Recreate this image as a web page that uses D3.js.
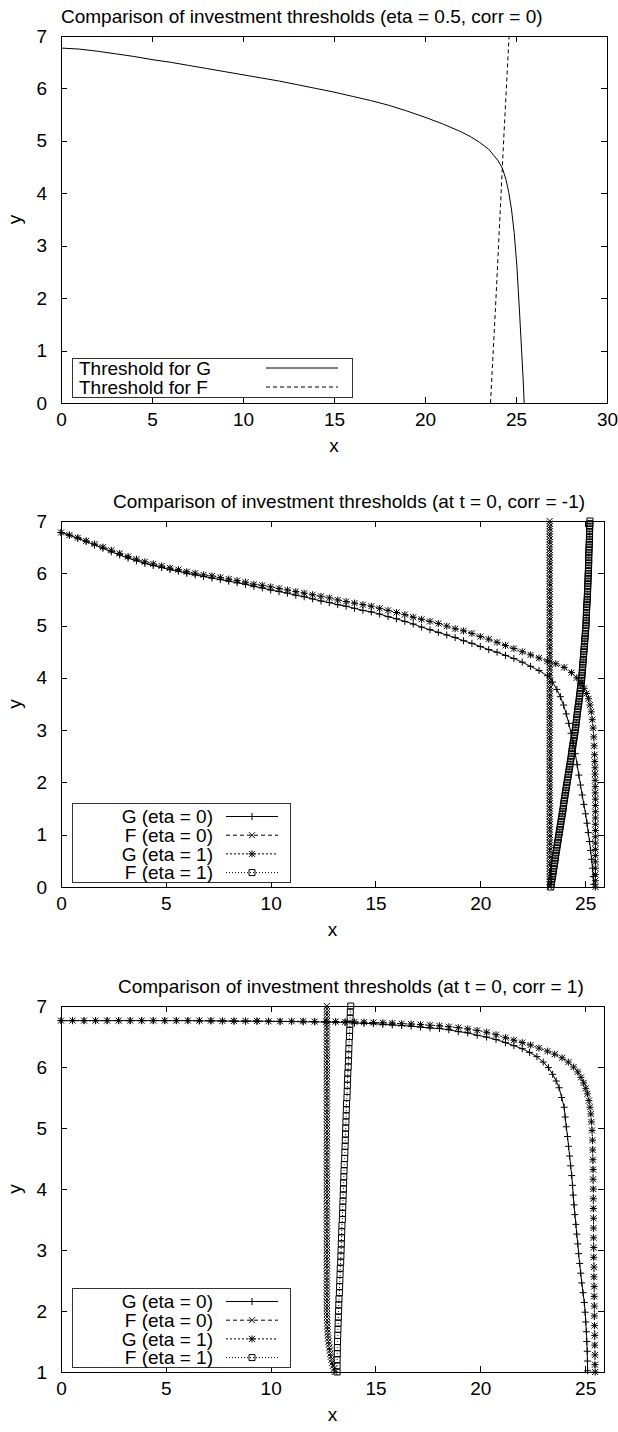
<!DOCTYPE html>
<html>
<head>
<meta charset="utf-8">
<script src="https://cdn.jsdelivr.net/npm/d3@7"></script>
<style>
  body { margin: 0; background: #fff; }
  svg { display: block; }
  text { font-family: "Liberation Sans", Arial, Helvetica, sans-serif; font-size: 19px; fill: #000; }
</style>
</head>
<body>
<svg id="chart" width="618" height="1432"></svg>
<script>
// ---- Titles, tick values, legend labels ----
const titleTop = "Comparison of investment thresholds (eta = 0.5, corr = 0)";
const titleMid = "Comparison of investment thresholds (at t = 0, corr = -1)";
const titleBot = "Comparison of investment thresholds (at t = 0, corr = 1)";
const xTicksTop = [0, 5, 10, 15, 20, 25, 30];
const xTicksLower = [0, 5, 10, 15, 20, 25];
const yTicksFull = [0, 1, 2, 3, 4, 5, 6, 7];
const yTicksBot = [1, 2, 3, 4, 5, 6, 7];
const legendTop = ["Threshold for G", "Threshold for F"];
const legendLower = ["G (eta = 0)", "F (eta = 0)", "G (eta = 1)", "F (eta = 1)"];

// ---- Panel 1: eta = 0.5, corr = 0 ----
const topG = [[0,6.77],[1,6.75],[2,6.71],[3,6.66],[4,6.61],[5,6.55],[6,6.5],[7,6.44],[8,6.38],[9,6.32],[10,6.26],[11,6.2],[12,6.14],[13,6.07],[14,6.0],[15,5.93],[16,5.85],[17,5.77],[18,5.68],[19,5.57],[20,5.45],[21,5.32],[22,5.17],[22.5,5.08],[23,4.97],[23.5,4.84],[24,4.63],[24.25,4.48],[24.45,4.26],[24.6,4.02],[24.75,3.7],[24.9,3.25],[25.05,2.6],[25.2,1.7],[25.3,1.05],[25.4,0.4],[25.45,0]];
const topF = [[23.6,0],[23.75,1],[23.9,2],[24.04,3],[24.18,4],[24.32,5],[24.47,6],[24.62,7]];

// ---- Panel 2: t = 0, corr = -1 ----
const midG0 = [[0,6.78],[0.4,6.73],[0.8,6.67],[1.2,6.61],[1.6,6.54],[2,6.48],[2.4,6.41],[2.8,6.35],[3.2,6.29],[3.6,6.24],[4,6.19],[4.4,6.15],[4.8,6.11],[5.2,6.07],[5.6,6.04],[6,6.0],[6.4,5.97],[6.8,5.94],[7.2,5.91],[7.6,5.88],[8,5.85],[8.4,5.82],[8.8,5.79],[9.2,5.75],[9.6,5.72],[10,5.68],[10.4,5.65],[10.8,5.62],[11.2,5.58],[11.6,5.55],[12,5.51],[12.4,5.47],[12.8,5.44],[13.2,5.4],[13.6,5.37],[14,5.33],[14.4,5.29],[14.8,5.26],[15.2,5.22],[15.6,5.17],[16,5.13],[16.4,5.08],[16.8,5.03],[17.2,4.97],[17.6,4.92],[18,4.87],[18.4,4.82],[18.8,4.77],[19.2,4.71],[19.6,4.66],[20,4.6],[20.4,4.54],[20.8,4.49],[21.2,4.43],[21.6,4.37],[22,4.3],[22.4,4.22],[22.8,4.14],[23.2,4.04],[23.45,3.92],[23.65,3.78],[23.82,3.64],[23.97,3.48],[24.1,3.31],[24.22,3.13],[24.33,2.94],[24.43,2.75],[24.53,2.55],[24.62,2.34],[24.7,2.14],[24.78,1.95],[24.86,1.76],[24.94,1.58],[25.02,1.4],[25.09,1.22],[25.15,1.04],[25.21,0.87],[25.26,0.7],[25.31,0.53],[25.35,0.36],[25.39,0.2],[25.42,0.05]];
const midF0 = [[23.31,0],[23.31,0.05],[23.31,0.1],[23.31,0.15],[23.31,0.2],[23.31,0.25],[23.31,0.3],[23.31,0.35],[23.31,0.4],[23.31,0.45],[23.31,0.5],[23.31,0.55],[23.31,0.6],[23.31,0.65],[23.31,0.7],[23.31,0.75],[23.31,0.8],[23.31,0.85],[23.31,0.9],[23.31,0.95],
  [23.31,1.0],[23.31,1.05],[23.31,1.1],[23.31,1.15],[23.31,1.2],[23.31,1.25],[23.31,1.3],[23.31,1.35],[23.31,1.4],[23.31,1.45],[23.31,1.5],[23.31,1.55],[23.31,1.6],[23.31,1.65],[23.31,1.7],[23.31,1.75],[23.31,1.8],[23.31,1.85],[23.31,1.9],[23.31,1.95],
  [23.31,2.0],[23.31,2.05],[23.31,2.1],[23.31,2.15],[23.31,2.2],[23.31,2.25],[23.31,2.3],[23.31,2.35],[23.31,2.4],[23.31,2.45],[23.31,2.5],[23.31,2.55],[23.31,2.6],[23.31,2.65],[23.31,2.7],[23.31,2.75],[23.31,2.8],[23.31,2.85],[23.31,2.9],[23.31,2.95],
  [23.31,3.0],[23.31,3.05],[23.31,3.1],[23.31,3.15],[23.31,3.2],[23.31,3.25],[23.31,3.3],[23.31,3.35],[23.31,3.4],[23.31,3.45],[23.31,3.5],[23.31,3.55],[23.31,3.6],[23.31,3.65],[23.31,3.7],[23.31,3.75],[23.31,3.8],[23.31,3.85],[23.31,3.9],[23.31,3.95],
  [23.31,4.0],[23.31,4.05],[23.31,4.1],[23.31,4.15],[23.31,4.2],[23.31,4.25],[23.31,4.3],[23.31,4.35],[23.31,4.4],[23.31,4.45],[23.31,4.5],[23.31,4.55],[23.31,4.6],[23.31,4.65],[23.31,4.7],[23.31,4.75],[23.31,4.8],[23.31,4.85],[23.31,4.9],[23.31,4.95],
  [23.31,5.0],[23.31,5.05],[23.31,5.1],[23.31,5.15],[23.31,5.2],[23.31,5.25],[23.31,5.3],[23.31,5.35],[23.31,5.4],[23.31,5.45],[23.31,5.5],[23.31,5.55],[23.31,5.6],[23.31,5.65],[23.31,5.7],[23.31,5.75],[23.31,5.8],[23.31,5.85],[23.31,5.9],[23.31,5.95],
  [23.31,6.0],[23.31,6.05],[23.31,6.1],[23.31,6.15],[23.31,6.2],[23.31,6.25],[23.31,6.3],[23.31,6.35],[23.31,6.4],[23.31,6.45],[23.31,6.5],[23.31,6.55],[23.31,6.6],[23.31,6.65],[23.31,6.7],[23.31,6.75],[23.31,6.8],[23.31,6.85],[23.31,6.9],[23.31,6.95],[23.31,7.0]];
const midG1 = [[0,6.78],[0.4,6.73],[0.8,6.68],[1.2,6.62],[1.6,6.56],[2,6.5],[2.4,6.44],[2.8,6.38],[3.2,6.32],[3.6,6.27],[4,6.22],[4.4,6.18],[4.8,6.14],[5.2,6.1],[5.6,6.07],[6,6.03],[6.4,6.0],[6.8,5.97],[7.2,5.95],[7.6,5.92],[8,5.89],[8.4,5.86],[8.8,5.83],[9.2,5.79],[9.6,5.77],[10,5.74],[10.4,5.71],[10.8,5.68],[11.2,5.65],[11.6,5.62],[12,5.59],[12.4,5.56],[12.8,5.53],[13.2,5.49],[13.6,5.46],[14,5.43],[14.4,5.4],[14.8,5.37],[15.2,5.33],[15.6,5.29],[16,5.25],[16.4,5.21],[16.8,5.16],[17.2,5.12],[17.6,5.08],[18,5.04],[18.4,4.99],[18.8,4.94],[19.2,4.9],[19.6,4.85],[20,4.79],[20.4,4.74],[20.8,4.68],[21.2,4.62],[21.6,4.56],[22,4.5],[22.4,4.44],[22.8,4.38],[23.2,4.32],[23.6,4.27],[24,4.2],[24.35,4.1],[24.6,4.0],[24.8,3.9],[24.95,3.8],[25.07,3.7],[25.16,3.6],[25.23,3.48],[25.29,3.35],[25.34,3.2],[25.38,3.04],[25.41,2.87],[25.43,2.7],[25.45,2.53],[25.46,2.4],[25.47,2.28],[25.47,2.16],[25.48,2.04],[25.48,1.92],[25.48,1.8],[25.49,1.68],[25.49,1.56],[25.49,1.44],[25.49,1.32],[25.49,1.2],[25.49,1.08],[25.49,0.96],[25.49,0.84],[25.49,0.72],[25.49,0.6],[25.49,0.48],[25.49,0.36],[25.49,0.24],[25.49,0.12],[25.49,0]];
const midF1 = [[23.36,0],[23.38,0.05],[23.4,0.1],[23.42,0.15],[23.44,0.2],[23.46,0.25],[23.48,0.3],[23.5,0.35],[23.52,0.4],[23.54,0.45],[23.56,0.5],[23.575,0.55],[23.59,0.6],[23.61,0.65],[23.63,0.7],[23.65,0.75],[23.67,0.8],[23.69,0.85],[23.71,0.9],[23.73,0.95],
  [23.75,1.0],[23.77,1.05],[23.79,1.1],[23.81,1.15],[23.83,1.2],[23.85,1.25],[23.87,1.3],[23.89,1.35],[23.91,1.4],[23.93,1.45],[23.95,1.5],[23.965,1.55],[23.98,1.6],[24.0,1.65],[24.02,1.7],[24.04,1.75],[24.06,1.8],[24.08,1.85],[24.1,1.9],[24.12,1.95],
  [24.14,2.0],[24.16,2.05],[24.18,2.1],[24.2,2.15],[24.22,2.2],[24.24,2.25],[24.26,2.3],[24.28,2.35],[24.3,2.4],[24.32,2.45],[24.34,2.5],[24.355,2.55],[24.37,2.6],[24.39,2.65],[24.41,2.7],[24.43,2.75],[24.45,2.8],[24.47,2.85],[24.49,2.9],[24.51,2.95],
  [24.53,3.0],[24.545,3.05],[24.56,3.1],[24.575,3.15],[24.59,3.2],[24.605,3.25],[24.62,3.3],[24.635,3.35],[24.65,3.4],[24.67,3.45],[24.69,3.5],[24.705,3.55],[24.72,3.6],[24.735,3.65],[24.75,3.7],[24.765,3.75],[24.78,3.8],[24.795,3.85],[24.81,3.9],[24.825,3.95],
  [24.84,4.0],[24.85,4.05],[24.86,4.1],[24.87,4.15],[24.88,4.2],[24.89,4.25],[24.9,4.3],[24.91,4.35],[24.92,4.4],[24.93,4.45],[24.94,4.5],[24.95,4.55],[24.96,4.6],[24.97,4.65],[24.98,4.7],[24.99,4.75],[25.0,4.8],[25.01,4.85],[25.02,4.9],[25.03,4.95],
  [25.04,5.0],[25.045,5.05],[25.05,5.1],[25.055,5.15],[25.06,5.2],[25.065,5.25],[25.07,5.3],[25.075,5.35],[25.08,5.4],[25.09,5.45],[25.1,5.5],[25.105,5.55],[25.11,5.6],[25.115,5.65],[25.12,5.7],[25.125,5.75],[25.13,5.8],[25.135,5.85],[25.14,5.9],[25.145,5.95],
  [25.15,6.0],[25.155,6.05],[25.16,6.1],[25.165,6.15],[25.17,6.2],[25.17,6.25],[25.17,6.3],[25.175,6.35],[25.18,6.4],[25.185,6.45],[25.19,6.5],[25.195,6.55],[25.2,6.6],[25.205,6.65],[25.21,6.7],[25.21,6.75],[25.21,6.8],[25.215,6.85],[25.22,6.9],[25.225,6.95],[25.23,7.0]];

// ---- Panel 3: t = 0, corr = 1 ----
const botG0 = [[0,6.76],[0.55,6.76],[1.1,6.76],[1.65,6.76],[2.2,6.76],[2.75,6.76],[3.3,6.76],[3.85,6.76],[4.4,6.76],[4.95,6.76],[5.5,6.76],[6.05,6.76],[6.6,6.755],[7.15,6.755],[7.7,6.755],[8.25,6.75],[8.8,6.75],[9.35,6.75],[9.9,6.75],[10.45,6.745],[11,6.745],[11.55,6.74],[12.1,6.74],[12.65,6.735],[13.1,6.735],[13.55,6.73],[14,6.72],[14.45,6.715],[14.9,6.71],[15.35,6.7],[15.8,6.69],[16.25,6.68],[16.7,6.67],[17.15,6.655],[17.6,6.64],[18.05,6.63],[18.5,6.61],[18.95,6.58],[19.4,6.56],[19.85,6.52],[20.3,6.49],[20.75,6.45],[21.2,6.4],[21.6,6.35],[22,6.3],[22.35,6.24],[22.7,6.17],[23,6.08],[23.25,5.99],[23.45,5.88],[23.62,5.77],[23.76,5.66],[23.88,5.5],[24,5.34],[24.05,5.18],[24.1,5.02],[24.16,4.86],[24.21,4.7],[24.26,4.54],[24.31,4.38],[24.36,4.22],[24.4,4.06],[24.43,3.9],[24.47,3.74],[24.51,3.58],[24.56,3.42],[24.6,3.26],[24.65,3.1],[24.69,2.94],[24.74,2.78],[24.79,2.62],[24.84,2.46],[24.9,2.3],[24.96,2.14],[25.0,1.98],[25.03,1.82],[25.06,1.66],[25.08,1.5],[25.1,1.34],[25.11,1.18],[25.12,1.02]];
const botF0 = [[13.05,1.0],[13.01,1.05],[12.97,1.1],[12.93,1.15],[12.9,1.2],[12.87,1.25],[12.85,1.3],[12.82,1.35],[12.8,1.4],[12.78,1.45],[12.76,1.5],[12.745,1.55],[12.73,1.6],[12.72,1.65],[12.71,1.7],[12.705,1.75],[12.7,1.8],[12.695,1.85],[12.69,1.9],[12.685,1.95],
  [12.68,2.0],[12.68,2.05],[12.68,2.1],[12.68,2.15],[12.68,2.2],[12.68,2.25],[12.68,2.3],[12.68,2.35],[12.68,2.4],[12.68,2.45],[12.68,2.5],[12.68,2.55],[12.68,2.6],[12.68,2.65],[12.68,2.7],[12.68,2.75],[12.68,2.8],[12.68,2.85],[12.68,2.9],[12.68,2.95],
  [12.68,3.0],[12.68,3.05],[12.68,3.1],[12.68,3.15],[12.68,3.2],[12.68,3.25],[12.68,3.3],[12.68,3.35],[12.68,3.4],[12.68,3.45],[12.68,3.5],[12.68,3.55],[12.68,3.6],[12.68,3.65],[12.68,3.7],[12.68,3.75],[12.68,3.8],[12.68,3.85],[12.68,3.9],[12.68,3.95],
  [12.68,4.0],[12.68,4.05],[12.68,4.1],[12.68,4.15],[12.68,4.2],[12.68,4.25],[12.68,4.3],[12.68,4.35],[12.68,4.4],[12.68,4.45],[12.68,4.5],[12.68,4.55],[12.68,4.6],[12.68,4.65],[12.68,4.7],[12.68,4.75],[12.68,4.8],[12.68,4.85],[12.68,4.9],[12.68,4.95],
  [12.68,5.0],[12.68,5.05],[12.68,5.1],[12.68,5.15],[12.68,5.2],[12.68,5.25],[12.68,5.3],[12.68,5.35],[12.68,5.4],[12.68,5.45],[12.68,5.5],[12.68,5.55],[12.68,5.6],[12.68,5.65],[12.68,5.7],[12.68,5.75],[12.68,5.8],[12.68,5.85],[12.68,5.9],[12.68,5.95],
  [12.68,6.0],[12.68,6.05],[12.68,6.1],[12.68,6.15],[12.68,6.2],[12.68,6.25],[12.68,6.3],[12.68,6.35],[12.68,6.4],[12.68,6.45],[12.68,6.5],[12.68,6.55],[12.68,6.6],[12.68,6.65],[12.68,6.7],[12.68,6.75],[12.68,6.8],[12.68,6.85],[12.68,6.9],[12.68,6.95],[12.68,7.0]];
const botG1 = [[0,6.76],[0.55,6.76],[1.1,6.76],[1.65,6.76],[2.2,6.76],[2.75,6.76],[3.3,6.76],[3.85,6.76],[4.4,6.76],[4.95,6.76],[5.5,6.76],[6.05,6.76],[6.6,6.76],[7.15,6.76],[7.7,6.755],[8.25,6.755],[8.8,6.755],[9.35,6.755],[9.9,6.75],[10.45,6.75],[11,6.75],[11.55,6.75],[12.1,6.745],[12.65,6.745],[13.1,6.745],[13.55,6.74],[14,6.74],[14.45,6.735],[14.9,6.73],[15.35,6.725],[15.8,6.72],[16.25,6.71],[16.7,6.705],[17.15,6.695],[17.6,6.685],[18.05,6.675],[18.5,6.66],[18.95,6.645],[19.4,6.625],[19.85,6.6],[20.3,6.57],[20.75,6.53],[21.2,6.48],[21.6,6.44],[22,6.4],[22.4,6.36],[22.8,6.31],[23.2,6.26],[23.55,6.21],[23.9,6.15],[24.2,6.08],[24.45,6.0],[24.65,5.92],[24.8,5.83],[24.93,5.74],[25.03,5.65],[25.11,5.56],[25.18,5.45],[25.23,5.34],[25.27,5.23],[25.3,5.1],[25.33,4.96],[25.35,4.8],[25.36,4.64],[25.37,4.48],[25.38,4.32],[25.38,4.16],[25.39,4.0],[25.39,3.84],[25.39,3.68],[25.4,3.52],[25.4,3.36],[25.4,3.2],[25.41,3.04],[25.41,2.88],[25.42,2.72],[25.42,2.56],[25.43,2.4],[25.43,2.24],[25.44,2.08],[25.44,1.92],[25.45,1.76],[25.46,1.6],[25.46,1.44],[25.47,1.28],[25.47,1.12],[25.48,1.0]];
const botF1 = [[13.17,1.0],[13.17,1.1],[13.17,1.2],[13.18,1.3],[13.18,1.4],[13.19,1.5],[13.2,1.6],[13.21,1.7],[13.22,1.8],[13.23,1.9],[13.24,2.0],[13.25,2.1],[13.26,2.2],[13.28,2.3],[13.29,2.4],[13.3,2.5],[13.31,2.6],[13.32,2.7],[13.34,2.8],[13.35,2.9],[13.36,3.0],[13.37,3.1],[13.38,3.2],[13.39,3.3],[13.4,3.4],[13.42,3.5],[13.43,3.6],[13.44,3.7],[13.45,3.8],[13.46,3.9],[13.47,4.0],[13.48,4.1],[13.49,4.2],[13.5,4.3],[13.51,4.4],[13.53,4.5],[13.54,4.6],[13.55,4.7],[13.56,4.8],[13.57,4.9],[13.58,5.0],[13.59,5.1],[13.6,5.2],[13.61,5.3],[13.62,5.4],[13.64,5.5],[13.65,5.6],[13.66,5.7],[13.67,5.8],[13.68,5.9],[13.7,6.0],[13.71,6.1],[13.72,6.2],[13.73,6.3],[13.74,6.4],[13.76,6.5],[13.77,6.6],[13.78,6.7],[13.79,6.8],[13.8,6.9],[13.82,7.0]];

// ---- Line / point styles (gnuplot-like monochrome) ----
const styleG0 = { dash: null,  marker: "plus" };
const styleF0 = { dash: "4,3", marker: "cross" };
const styleG1 = { dash: "2,2", marker: "star" };
const styleF1 = { dash: "1,2", marker: "square" };
const styleTopG = { dash: null,  marker: null };
const styleTopF = { dash: "4,3", marker: null };

const markerPaths = {
  plus:   "M-3.5,0H3.5M0,-3.5V3.5",
  cross:  "M-3,-3L3,3M-3,3L3,-3",
  star:   "M-3.5,0H3.5M0,-3.5V3.5M-3,-3L3,3M-3,3L3,-3",
  square: "M-3,-3H3V3H-3Z"
};

const svg = d3.select("#chart");
svg.append("rect").attr("width", 618).attr("height", 1432).attr("fill", "#fff");

function drawPanel(p) {
  const g = svg.append("g");
  const x = d3.scaleLinear().domain(p.xDomain).range([p.left, p.right]);
  const y = d3.scaleLinear().domain(p.yDomain).range([p.bottom, p.top]);
  const fmt = d3.format("d");

  const clipId = "clip-" + p.id;
  svg.append("clipPath").attr("id", clipId).append("rect")
    .attr("x", p.left).attr("y", p.top)
    .attr("width", p.right - p.left).attr("height", p.bottom - p.top);

  // Title
  g.append("text").attr("x", p.titleX).attr("y", p.titleY).text(p.title);

  // Ticks on all four sides, pointing inwards
  function addAxis(axis, tx, ty, keepLabels) {
    const a = g.append("g").attr("transform", `translate(${tx},${ty})`).call(axis);
    a.attr("font-size", null).attr("font-family", null);
    a.select(".domain").remove();
    a.selectAll("line").attr("stroke", "#000").attr("shape-rendering", "crispEdges");
    a.selectAll("text").attr("fill", "#000");
    if (!keepLabels) a.selectAll("text").remove();
  }
  addAxis(d3.axisBottom(x).tickValues(p.xTicks).tickFormat(fmt).tickSizeInner(-6).tickSizeOuter(0).tickPadding(10), 0, p.bottom, true);
  addAxis(d3.axisTop(x).tickValues(p.xTicks).tickSizeInner(-6).tickSizeOuter(0), 0, p.top, false);
  addAxis(d3.axisLeft(y).tickValues(p.yTicks).tickFormat(fmt).tickSizeInner(-6).tickSizeOuter(0).tickPadding(14), p.left, 0, true);
  addAxis(d3.axisRight(y).tickValues(p.yTicks).tickSizeInner(-6).tickSizeOuter(0), p.right, 0, false);

  // Axis titles
  g.append("text").attr("x", (p.left + p.right) / 2).attr("y", p.bottom + 49)
    .attr("text-anchor", "middle").text("x");
  g.append("text").attr("transform", `translate(21,${(p.top + p.bottom) / 2}) rotate(-90)`)
    .attr("text-anchor", "middle").text("y");

  // Series lines (clipped) and point markers
  p.series.forEach(s => {
    const line = d3.line().x(d => x(d[0])).y(d => y(d[1]));
    g.append("path").datum(s.data)
      .attr("clip-path", `url(#${clipId})`)
      .attr("d", line)
      .attr("fill", "none").attr("stroke", "#000").attr("stroke-width", 1)
      .attr("stroke-dasharray", s.style.dash);
    if (s.style.marker) {
      g.append("g").selectAll("path")
        .data(s.data.filter(d => d[0] >= p.xDomain[0] && d[0] <= p.xDomain[1] && d[1] >= p.yDomain[0] && d[1] <= p.yDomain[1]))
        .join("path")
        .attr("transform", d => `translate(${x(d[0])},${y(d[1])})`)
        .attr("d", markerPaths[s.style.marker])
        .attr("fill", "none").attr("stroke", "#000").attr("stroke-width", 1);
    }
  });

  // Border
  g.append("rect").attr("x", p.left).attr("y", p.top)
    .attr("width", p.right - p.left).attr("height", p.bottom - p.top)
    .attr("fill", "none").attr("stroke", "#000").attr("stroke-width", 1)
    .attr("shape-rendering", "crispEdges");

  // Legend box
  const L = p.legend;
  const lg = g.append("g");
  lg.append("rect").attr("x", L.x).attr("y", L.y).attr("width", L.w).attr("height", L.h)
    .attr("fill", "#fff").attr("stroke", "#333").attr("stroke-width", 1)
    .attr("shape-rendering", "crispEdges");
  p.series.forEach((s, i) => {
    const cy = L.firstRow + i * L.rowH;
    lg.append("text").attr("x", L.textX).attr("y", cy).attr("dy", "0.35em")
      .attr("text-anchor", L.anchor).text(s.label);
    lg.append("line").attr("x1", L.s1).attr("x2", L.s2).attr("y1", cy).attr("y2", cy)
      .attr("stroke", "#000").attr("stroke-width", 1).attr("stroke-dasharray", s.style.dash);
    if (s.style.marker) {
      lg.append("path").attr("transform", `translate(${(L.s1 + L.s2) / 2},${cy})`)
        .attr("d", markerPaths[s.style.marker])
        .attr("fill", "none").attr("stroke", "#000").attr("stroke-width", 1);
    }
  });
}

drawPanel({
  id: "top", title: titleTop, titleX: 61, titleY: 23,
  left: 61, right: 607, top: 36, bottom: 403,
  xDomain: [0, 30], yDomain: [0, 7], xTicks: xTicksTop, yTicks: yTicksFull,
  series: [
    { label: legendTop[0], data: topG, style: styleTopG },
    { label: legendTop[1], data: topF, style: styleTopF }
  ],
  legend: { x: 72, y: 358, w: 280, h: 39, firstRow: 368, rowH: 19, textX: 79, anchor: "start", s1: 266, s2: 338 }
});

drawPanel({
  id: "mid", title: titleMid, titleX: 113, titleY: 508,
  left: 61, right: 604, top: 521, bottom: 887,
  xDomain: [0, 25.9], yDomain: [0, 7], xTicks: xTicksLower, yTicks: yTicksFull,
  series: [
    { label: legendLower[0], data: midG0, style: styleG0 },
    { label: legendLower[1], data: midF0, style: styleF0 },
    { label: legendLower[2], data: midG1, style: styleG1 },
    { label: legendLower[3], data: midF1, style: styleF1 }
  ],
  legend: { x: 72, y: 803, w: 218, h: 79, firstRow: 816.5, rowH: 18.7, textX: 213, anchor: "end", s1: 226, s2: 278 }
});

drawPanel({
  id: "bot", title: titleBot, titleX: 118, titleY: 993,
  left: 61, right: 604, top: 1006, bottom: 1372,
  xDomain: [0, 25.9], yDomain: [1, 7], xTicks: xTicksLower, yTicks: yTicksBot,
  series: [
    { label: legendLower[0], data: botG0, style: styleG0 },
    { label: legendLower[1], data: botF0, style: styleF0 },
    { label: legendLower[2], data: botG1, style: styleG1 },
    { label: legendLower[3], data: botF1, style: styleF1 }
  ],
  legend: { x: 72, y: 1288, w: 218, h: 79, firstRow: 1301.5, rowH: 18.7, textX: 213, anchor: "end", s1: 226, s2: 278 }
});
</script>
</body>
</html>
